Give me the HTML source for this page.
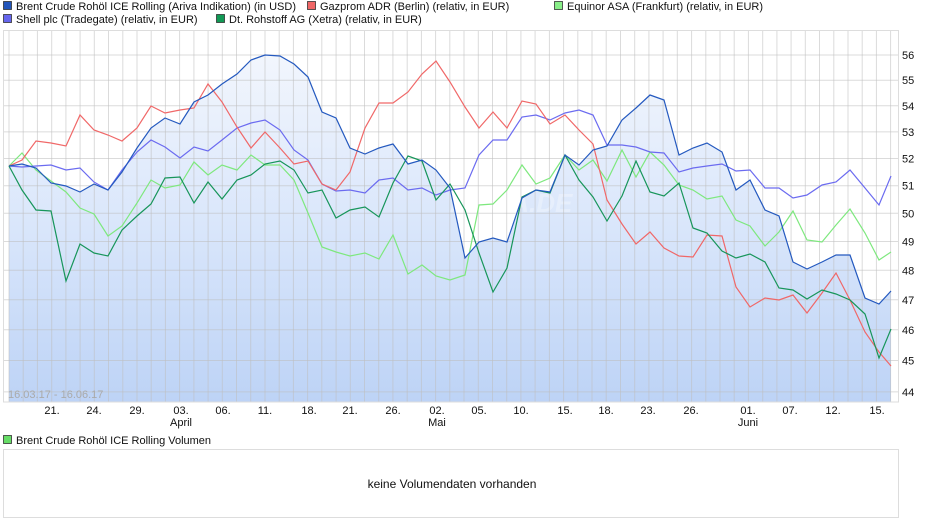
<!DOCTYPE html>
<html><head><meta charset="utf-8"><style>
body{margin:0;background:#fff;width:940px;height:526px;overflow:hidden;font-family:"Liberation Sans",Arial,sans-serif}
svg{position:absolute;left:0;top:0}
text{font-family:"Liberation Sans",Arial,sans-serif;font-size:11px;fill:#111}
</style></head><body>
<svg id="s" width="940" height="526" xmlns="http://www.w3.org/2000/svg">
<defs><linearGradient id="g" gradientUnits="userSpaceOnUse" x1="0" y1="55" x2="0" y2="402"><stop offset="0" stop-color="#f2f6fd"/><stop offset="0.5" stop-color="#d9e6fb"/><stop offset="1" stop-color="#bdd3f6"/></linearGradient></defs>
<g id="leg">
<rect x="3.5" y="1.5" width="8" height="8" fill="#2255bb" stroke="#333" stroke-width="0.8"/><text x="16" y="10">Brent Crude Rohöl ICE Rolling (Ariva Indikation) (in USD)</text>
<rect x="307.5" y="1.5" width="8" height="8" fill="#f06666" stroke="#333" stroke-width="0.8"/><text x="320" y="10">Gazprom ADR (Berlin) (relativ, in EUR)</text>
<rect x="554.5" y="1.5" width="8" height="8" fill="#88ee88" stroke="#333" stroke-width="0.8"/><text x="567" y="10">Equinor ASA (Frankfurt) (relativ, in EUR)</text>
<rect x="3.5" y="14.5" width="8" height="8" fill="#6666ee" stroke="#333" stroke-width="0.8"/><text x="16" y="23">Shell plc (Tradegate) (relativ, in EUR)</text>
<rect x="216.5" y="14.5" width="8" height="8" fill="#119955" stroke="#333" stroke-width="0.8"/><text x="229" y="23">Dt. Rohstoff AG (Xetra) (relativ, in EUR)</text>
<rect x="3.5" y="435.5" width="8" height="8" fill="#66dd66" stroke="#333" stroke-width="0.8"/><text x="16" y="444">Brent Crude Rohöl ICE Rolling Volumen</text>
</g>
<g id="fill"></g>
<g id="grid"></g>
<g id="lines"></g>
<rect x="3.5" y="30.5" width="895" height="371.5" fill="none" stroke="#ddd"/>
<text x="8" y="398" style="fill:#aaa">16.03.17 - 16.06.17</text>
<rect x="3.5" y="449.5" width="895" height="68" fill="none" stroke="#ddd"/>
<text x="452" y="488" text-anchor="middle" style="font-size:12px">keine Volumendaten vorhanden</text>
</svg>
<script>
var s=document.getElementById('s'),NS='http://www.w3.org/2000/svg';
function el(p,t,a,txt){var e=document.createElementNS(NS,t);for(var k in a)e.setAttribute(k,a[k]);if(txt)e.textContent=txt;document.getElementById(p)?document.getElementById(p).appendChild(e):s.appendChild(e);return e;}
function Y(v){return 55+(Math.log(56)-Math.log(v))*1397;}
for(var x=9;x<898;x+=14.22)el('grid','line',{x1:x.toFixed(1),x2:x.toFixed(1),y1:30,y2:402,stroke:'rgba(190,190,190,0.55)','stroke-width':1});
for(var v=44;v<=56;v++){var y=Y(v);el('grid','line',{x1:3,x2:898,y1:y.toFixed(1),y2:y.toFixed(1),stroke:'rgba(190,190,190,0.55)','stroke-width':1});el('s','text',{x:902,y:(y+4).toFixed(1)},String(v));}
var xl=[["21.",52],["24.",94],["29.",137],["03.",181],["06.",223],["11.",265],["18.",309],["21.",350],["26.",393],["02.",437],["05.",479],["10.",521],["15.",565],["18.",606],["23.",648],["26.",691],["01.",748],["07.",790],["12.",833],["15.",877]];
xl.forEach(function(a){el('s','text',{x:a[1],y:414,'text-anchor':'middle'},a[0]);});
[["April",181],["Mai",437],["Juni",748]].forEach(function(a){el('s','text',{x:a[1],y:426,'text-anchor':'middle'},a[0]);});
var X=[9,22,36,51,66,80,94,108,122,137,151,165,180,194,208,222,237,251,265,280,294,308,322,336,350,365,379,393,408,422,436,450,465,479,493,507,522,536,550,565,579,593,607,622,636,650,664,679,693,707,722,736,750,765,779,793,807,822,836,850,865,879,891];
var D={
b:[166,164,168,183,186,192,184,190,172,148,128,118,124,102,95,84,74,60,55,56,64,77,112,118,148,154,148,144,164,160,170,188,258,242,238,242,198,190,192,155,165,150,146,120,108,95,100,155,148,143,152,190,180,210,216,262,269,262,255,255,298,304,291],
r:[166,160,141,143,146,115,130,135,141,128,106,113,110,108,84,102,127,148,132,148,164,161,184,190,172,128,103,103,92,74,61,82,107,128,112,128,101,104,124,115,130,144,200,224,244,232,248,256,257,235,236,287,307,298,300,295,313,293,273,300,332,352,366],
e:[166,153,170,181,192,208,214,236,226,203,180,188,185,162,175,165,170,155,165,165,180,213,247,252,256,253,259,235,274,265,276,280,275,205,204,190,165,184,178,155,170,160,181,150,177,152,165,185,190,199,196,220,226,246,232,211,240,242,225,209,233,260,252],
sh:[166,167,166,165,170,168,182,190,170,152,140,147,158,147,151,140,128,123,120,130,150,160,184,191,190,193,180,178,190,188,195,190,188,155,140,140,117,115,120,113,110,115,145,145,147,152,153,172,168,166,164,171,170,188,188,198,195,185,182,170,188,205,176],
d:[166,190,210,211,281,244,253,256,230,216,204,178,177,203,182,199,180,175,164,161,170,193,190,218,210,207,217,183,156,161,200,184,210,253,292,268,197,190,193,155,180,197,221,196,161,192,196,183,228,233,251,258,254,262,288,290,299,290,294,300,314,358,329]};
function pts(a){return a.map(function(y,i){return X[i]+','+y;}).join(' ');}
el('fill','polygon',{points:'9,402 '+pts(D.b)+' 891,402',fill:'url(#g)'});
el('fill','text',{x:450,y:212,style:'font-size:26px;font-weight:bold;fill:#fff;fill-opacity:0.3;font-style:italic'},'ARIVA.DE');
var C={e:'#7ee87e',sh:'#6b6bf0',r:'#f06868',d:'#17955a',b:'#2459bf'};
['e','sh','r','d','b'].forEach(function(k){el('lines','polyline',{points:pts(D[k]),fill:'none',stroke:C[k],'stroke-width':1.2});});
</script>
</body></html>
